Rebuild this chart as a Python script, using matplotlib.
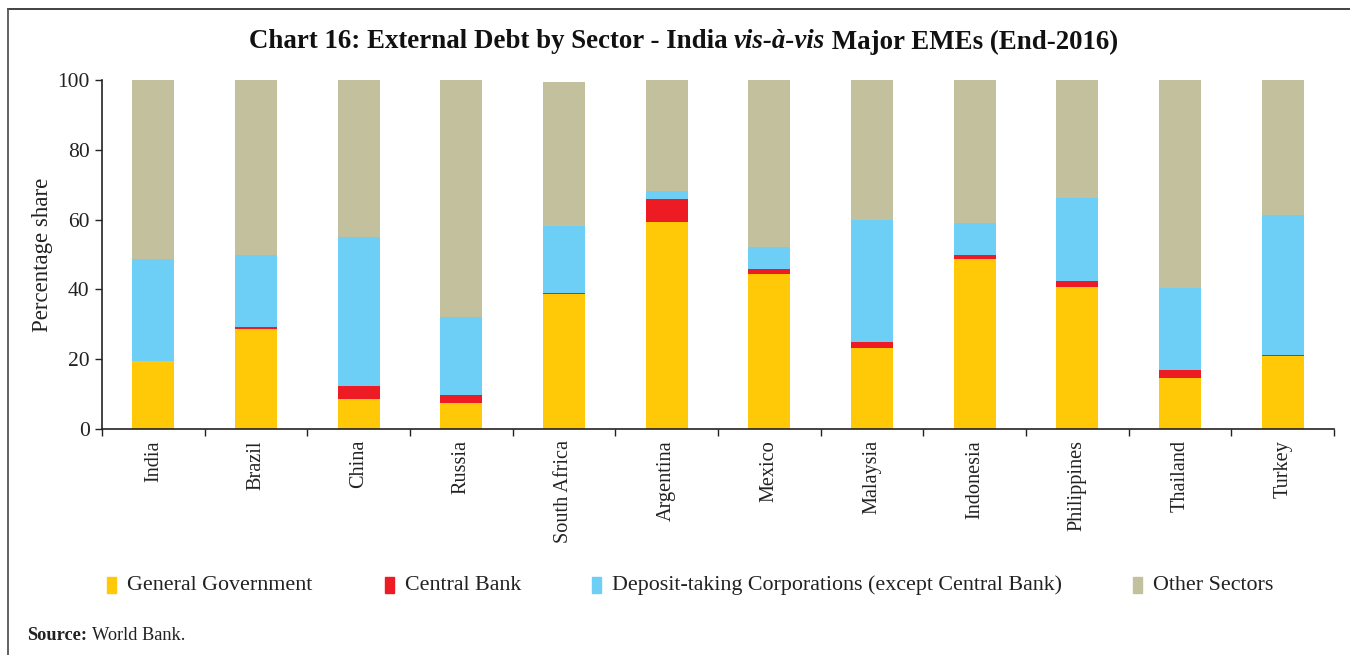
import matplotlib
matplotlib.use("Agg")
import matplotlib.pyplot as plt
import numpy as np
from matplotlib.lines import Line2D

countries = ["India", "Brazil", "China", "Russia", "South Africa", "Argentina",
             "Mexico", "Malaysia", "Indonesia", "Philippines", "Thailand", "Turkey"]
general_government = [19.5, 28.6, 8.6, 7.4, 38.7, 59.3, 44.4, 23.2, 48.7, 40.7, 14.6, 21.0]
central_bank = [0.0, 0.7, 3.7, 2.3, 0.2, 6.6, 1.4, 1.7, 1.2, 1.7, 2.3, 0.3]
deposit_taking = [29.2, 20.6, 42.7, 22.4, 19.4, 2.3, 6.3, 35.1, 9.1, 23.9, 23.6, 40.1]
other_sectors = [51.3, 50.1, 45.0, 67.9, 41.2, 31.8, 47.9, 40.0, 41.0, 33.7, 59.5, 38.6]

series = [
    ("General Government", general_government, "#FFC907"),
    ("Central Bank", central_bank, "#ED1C24"),
    ("Deposit-taking Corporations (except Central Bank)", deposit_taking, "#6DCFF6"),
    ("Other Sectors", other_sectors, "#C3C09E"),
]

plt.rcParams["font.family"] = ["Liberation Serif", "DejaVu Serif"]

W, H = 1350, 655
fig = plt.figure(figsize=(W / 100, H / 100), dpi=100)
ax = fig.add_axes([102 / W, 1 - 429 / H, 1232 / W, 349 / H])

x = np.arange(len(countries))
bottom = np.zeros(len(countries))
for name, vals, color in series:
    vals = np.array(vals)
    ax.bar(x, vals, width=0.41, bottom=bottom, color=color, label=name, zorder=2)
    bottom += vals

ax.set_xlim(-0.5, len(countries) - 0.5)
ax.set_ylim(0, 100)
ax.set_yticks(range(0, 101, 20))
ax.tick_params(axis="y", labelsize=15.5, length=5, width=1, colors="#222222", pad=4)
ax.set_xticks(x)
ax.set_xticklabels(countries, rotation=90, fontsize=14.6, va="top")
ax.tick_params(axis="x", which="major", length=0, pad=8, colors="#222222")
ax.set_xticks(np.arange(-0.5, len(countries)), minor=True)
ax.tick_params(axis="x", which="minor", length=5, width=1, color="#222222")

for side in ("top", "right"):
    ax.spines[side].set_visible(False)
for side in ("left", "bottom"):
    ax.spines[side].set_color("#222222")
    ax.spines[side].set_linewidth(1.2)

ax.set_ylabel("Percentage share", fontsize=16.5, color="#222222")
ax.yaxis.set_label_coords(-(102 - 53) / 1232, 0.5)

# Title assembled from pieces so the Latin phrase can be italic
title_parts = [("Chart 16: External Debt by Sector - India ", "normal"),
               ("vis-à-vis", "italic"),
               (" Major EMEs (End-2016)", "normal")]
renderer = fig.canvas.get_renderer()
texts = []
for s, style in title_parts:
    t = fig.text(0, 1 - 42 / H, s, fontsize=19.4, fontweight="bold",
                 fontstyle=style, ha="left", va="center", color="#111111")
    texts.append(t)
widths = [t.get_window_extent(renderer).width for t in texts]
pos = 247 + (873 - sum(widths)) / 2
for t, w in zip(texts, widths):
    t.set_x(pos / W)
    pos += w

legend_x = [107, 385, 592, 1133]
for (name, _, color), lx in zip(series, legend_x):
    fig.patches.append(plt.Rectangle((lx / W, 1 - 593 / H), 9 / W, 16 / H,
                                     transform=fig.transFigure, color=color))
    fig.text((lx + 20) / W, 1 - 585 / H, name, fontsize=15.8, ha="left", va="center",
             color="#222222")

src_b = fig.text(27 / W, 1 - 636 / H, "Source:", fontsize=13.2, fontweight="bold",
                 ha="left", va="center", color="#222222")
bw = src_b.get_window_extent(renderer).width
fig.text((27 + bw + 5) / W, 1 - 636 / H, "World Bank.", fontsize=13.2,
         ha="left", va="center", color="#222222")

# Frame lines at the top and left edge of the figure
fig.add_artist(Line2D([8 / W, 1], [1 - 9 / H, 1 - 9 / H], transform=fig.transFigure,
                      color="#333333", linewidth=1.3))
fig.add_artist(Line2D([8 / W, 8 / W], [0, 1 - 9 / H], transform=fig.transFigure,
                      color="#555555", linewidth=1.3))

fig.savefig("out.png", dpi=100)
